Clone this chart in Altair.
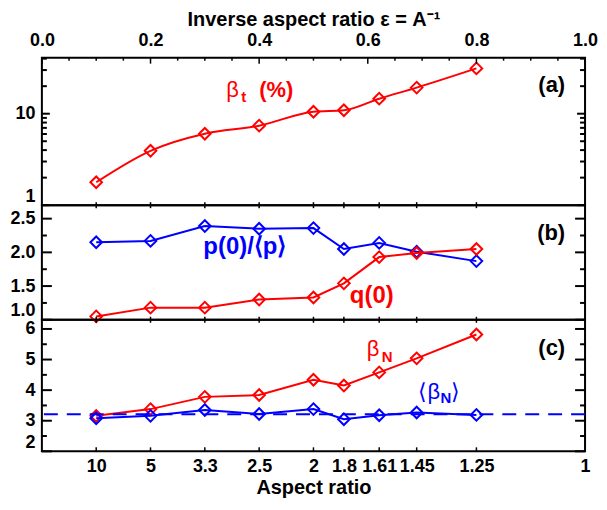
import altair as alt
import pandas as pd

# ---------------- data ----------------
eps = [0.1, 0.2, 0.3, 0.4, 0.5, 0.556, 0.621, 0.69, 0.8]
aspect_ratio_labels = ["10", "5", "3.3", "2.5", "2", "1.8", "1.61", "1.45", "1.25"]

beta_t = [1.78, 3.93, 6.04, 7.4, 10.5, 10.9, 14.6, 19.3, 31.3]
p0_over_pmean = [2.15, 2.17, 2.39, 2.35, 2.36, 2.05, 2.14, 2.01, 1.87]
q0 = [1.05, 1.18, 1.18, 1.30, 1.33, 1.54, 1.93, 1.99, 2.05]
beta_N = [3.16, 3.38, 3.78, 3.84, 4.34, 4.15, 4.58, 5.04, 5.82]
beta_N_mean_pts = [3.08, 3.16, 3.35, 3.22, 3.38, 3.05, 3.18, 3.27, 3.19]
beta_N_mean_level = [3.21]

top_axis_values = [0.0, 0.2, 0.4, 0.6, 0.8, 1.0]
top_axis_minor = [0.05, 0.1, 0.15, 0.25, 0.3, 0.35, 0.45, 0.5, 0.55,
                  0.65, 0.7, 0.75, 0.85, 0.9, 0.95]
bottom_axis_values = eps + [1.0]
bottom_axis_labels = aspect_ratio_labels + ["1"]

a_ticks_major = [1, 10]
a_ticks_minor = [2, 3, 4, 5, 6, 7, 8, 9, 20, 30, 40]
b_ticks_major = [1.0, 1.5, 2.0, 2.5]
b_ticks_minor = [1.25, 1.75, 2.25]
c_ticks_major = [2, 3, 4, 5, 6]
c_ticks_minor = [2.5, 3.5, 4.5, 5.5]

# ---------------- styling ----------------
W = 545
HA, HB, HC = 148, 115, 132
RED = "#ff0000"
BLUE = "#0000ff"
FONT = "Liberation Sans"

xscale = alt.Scale(domain=[0, 1], nice=False, zero=False)
ya = alt.Scale(type="log", domain=[1, 41], nice=False)
yb = alt.Scale(domain=[1.0, 2.7], nice=False, zero=False)
yc = alt.Scale(domain=[2.0, 6.3], nice=False, zero=False)


def y_axis(values, fmt):
    return alt.Axis(values=values, format=fmt, title=None, ticks=False, domain=False,
                    grid=False, labelPadding=7, labelFlush=True)


class Panel:
    def __init__(self, yscale, height, xaxis, yaxis):
        self.yscale = yscale
        self.h = height
        self.xaxis = xaxis
        self.yaxis = yaxis

    def X(self, f):
        return alt.X(f, scale=xscale, axis=self.xaxis)

    def Y(self, f):
        return alt.Y(f, scale=self.yscale, axis=self.yaxis)

    def series(self, xv, yv, color, interp="linear"):
        base = alt.Chart(pd.DataFrame({"x": xv, "y": yv}))
        line = base.mark_line(color=color, strokeWidth=2, interpolate=interp).encode(
            x=self.X("x:Q"), y=self.Y("y:Q"))
        pts = base.mark_point(shape="diamond", filled=False, color=color, size=135,
                              strokeWidth=2, opacity=1).encode(
            x=self.X("x:Q"), y=self.Y("y:Q"))
        return [line, pts]

    def y_ticks(self, values, length):
        base = alt.Chart(pd.DataFrame({"y": values}))
        left = base.mark_rule(color="black", strokeWidth=2).encode(
            y=self.Y("y:Q"), x=alt.value(0), x2=alt.value(length))
        right = base.mark_rule(color="black", strokeWidth=2).encode(
            y=self.Y("y:Q"), x=alt.value(W - length), x2=alt.value(W))
        return [left, right]

    def x_ticks(self, values, y0, y1):
        return alt.Chart(pd.DataFrame({"x": values})).mark_rule(
            color="black", strokeWidth=1.5).encode(
            x=self.X("x:Q"), y=alt.value(y0), y2=alt.value(y1))

    def hline(self, values, color):
        return alt.Chart(pd.DataFrame({"y": values})).mark_rule(
            color=color, strokeWidth=2, strokeDash=[14, 9]).encode(y=self.Y("y:Q"))


def label(text, px, py, color, size, weight="bold", align="left"):
    return alt.Chart(pd.DataFrame({"t": [text]})).mark_text(
        align=align, baseline="alphabetic", font=FONT, fontSize=size,
        fontWeight=weight, color=color,
    ).encode(text="t:N", x=alt.value(px), y=alt.value(py))


# ---------------- panel (a) ----------------
top_axis = alt.Axis(orient="top", values=top_axis_values, format=".1f",
                    title="Inverse aspect ratio ε = A⁻¹", ticks=False, domain=False,
                    grid=False, labelPadding=8, titlePadding=2, labelFlush=False,
                    labelOverlap=False)
pa = Panel(ya, HA, top_axis, y_axis(a_ticks_major, "d"))
panel_a = alt.layer(
    *pa.series(eps, beta_t, RED, interp="monotone"),
    *pa.y_ticks(a_ticks_major, 8),
    *pa.y_ticks(a_ticks_minor, 5),
    pa.x_ticks(top_axis_values, 0, 6),
    pa.x_ticks(top_axis_minor, 0, 3),
    pa.x_ticks(eps, HA - 3, HA),
    label("β", 185, 39, RED, 22, weight="normal"),
    label("t", 200, 44, RED, 15),
    label("(%)", 218, 39, RED, 22),
    label("(a)", W - 20, 34, "black", 22, align="right"),
).properties(width=W, height=HA)

# ---------------- panel (b) ----------------
pb = Panel(yb, HB, None, y_axis(b_ticks_major, ".1f"))
panel_b = alt.layer(
    *pb.series(eps, p0_over_pmean, BLUE),
    *pb.series(eps, q0, RED),
    *pb.y_ticks(b_ticks_major, 10),
    *pb.y_ticks(b_ticks_minor, 5),
    pb.x_ticks(eps, 0, 3),
    pb.x_ticks(eps, HB - 3, HB),
    label("p(0)/⟨p⟩", 162, 49, BLUE, 24),
    label("q(0)", 309, 98, RED, 24),
    label("(b)", W - 20, 35, "black", 22, align="right"),
).properties(width=W, height=HB)

# ---------------- panel (c) ----------------
label_expr = "[{}][indexof([{}], datum.value)]".format(
    ",".join("'" + s + "'" for s in bottom_axis_labels),
    ",".join(repr(v) for v in bottom_axis_values),
)
bottom_axis = alt.Axis(orient="bottom", values=bottom_axis_values, labelExpr=label_expr,
                       title="Aspect ratio", ticks=False, domain=False, grid=False,
                       labelPadding=6, titlePadding=2, labelFlush=False, labelOverlap=False)
pc = Panel(yc, HC, bottom_axis, y_axis(c_ticks_major, "d"))
panel_c = alt.layer(
    *pc.series(eps, beta_N, RED),
    pc.hline(beta_N_mean_level, BLUE),
    *pc.series(eps, beta_N_mean_pts, BLUE),
    *pc.y_ticks(c_ticks_major, 10),
    *pc.y_ticks(c_ticks_minor, 5),
    pc.x_ticks(eps, 0, 3),
    pc.x_ticks(eps, HC - 4, HC),
    label("β", 326, 36, RED, 22, weight="normal"),
    label("N", 341, 42, RED, 15),
    label("⟨", 377, 79, BLUE, 22, weight="normal"),
    label("β", 387, 79, BLUE, 22, weight="normal"),
    label("N", 400, 84, BLUE, 15),
    label("⟩", 411, 79, BLUE, 22, weight="normal"),
    label("(c)", W - 20, 35, "black", 22, align="right"),
).properties(width=W, height=HC)

chart = alt.vconcat(panel_a, panel_b, panel_c, spacing=0, bounds="flush").properties(
    padding=0, background="white"
).configure_view(
    stroke="black", strokeWidth=2
).configure_axis(
    labelFont=FONT, labelFontWeight="bold", labelFontSize=18, labelColor="black",
    titleFont=FONT, titleFontWeight="bold", titleFontSize=20, titleColor="black",
)

chart.save("out.html", embed_options={"renderer": "svg", "actions": False})
